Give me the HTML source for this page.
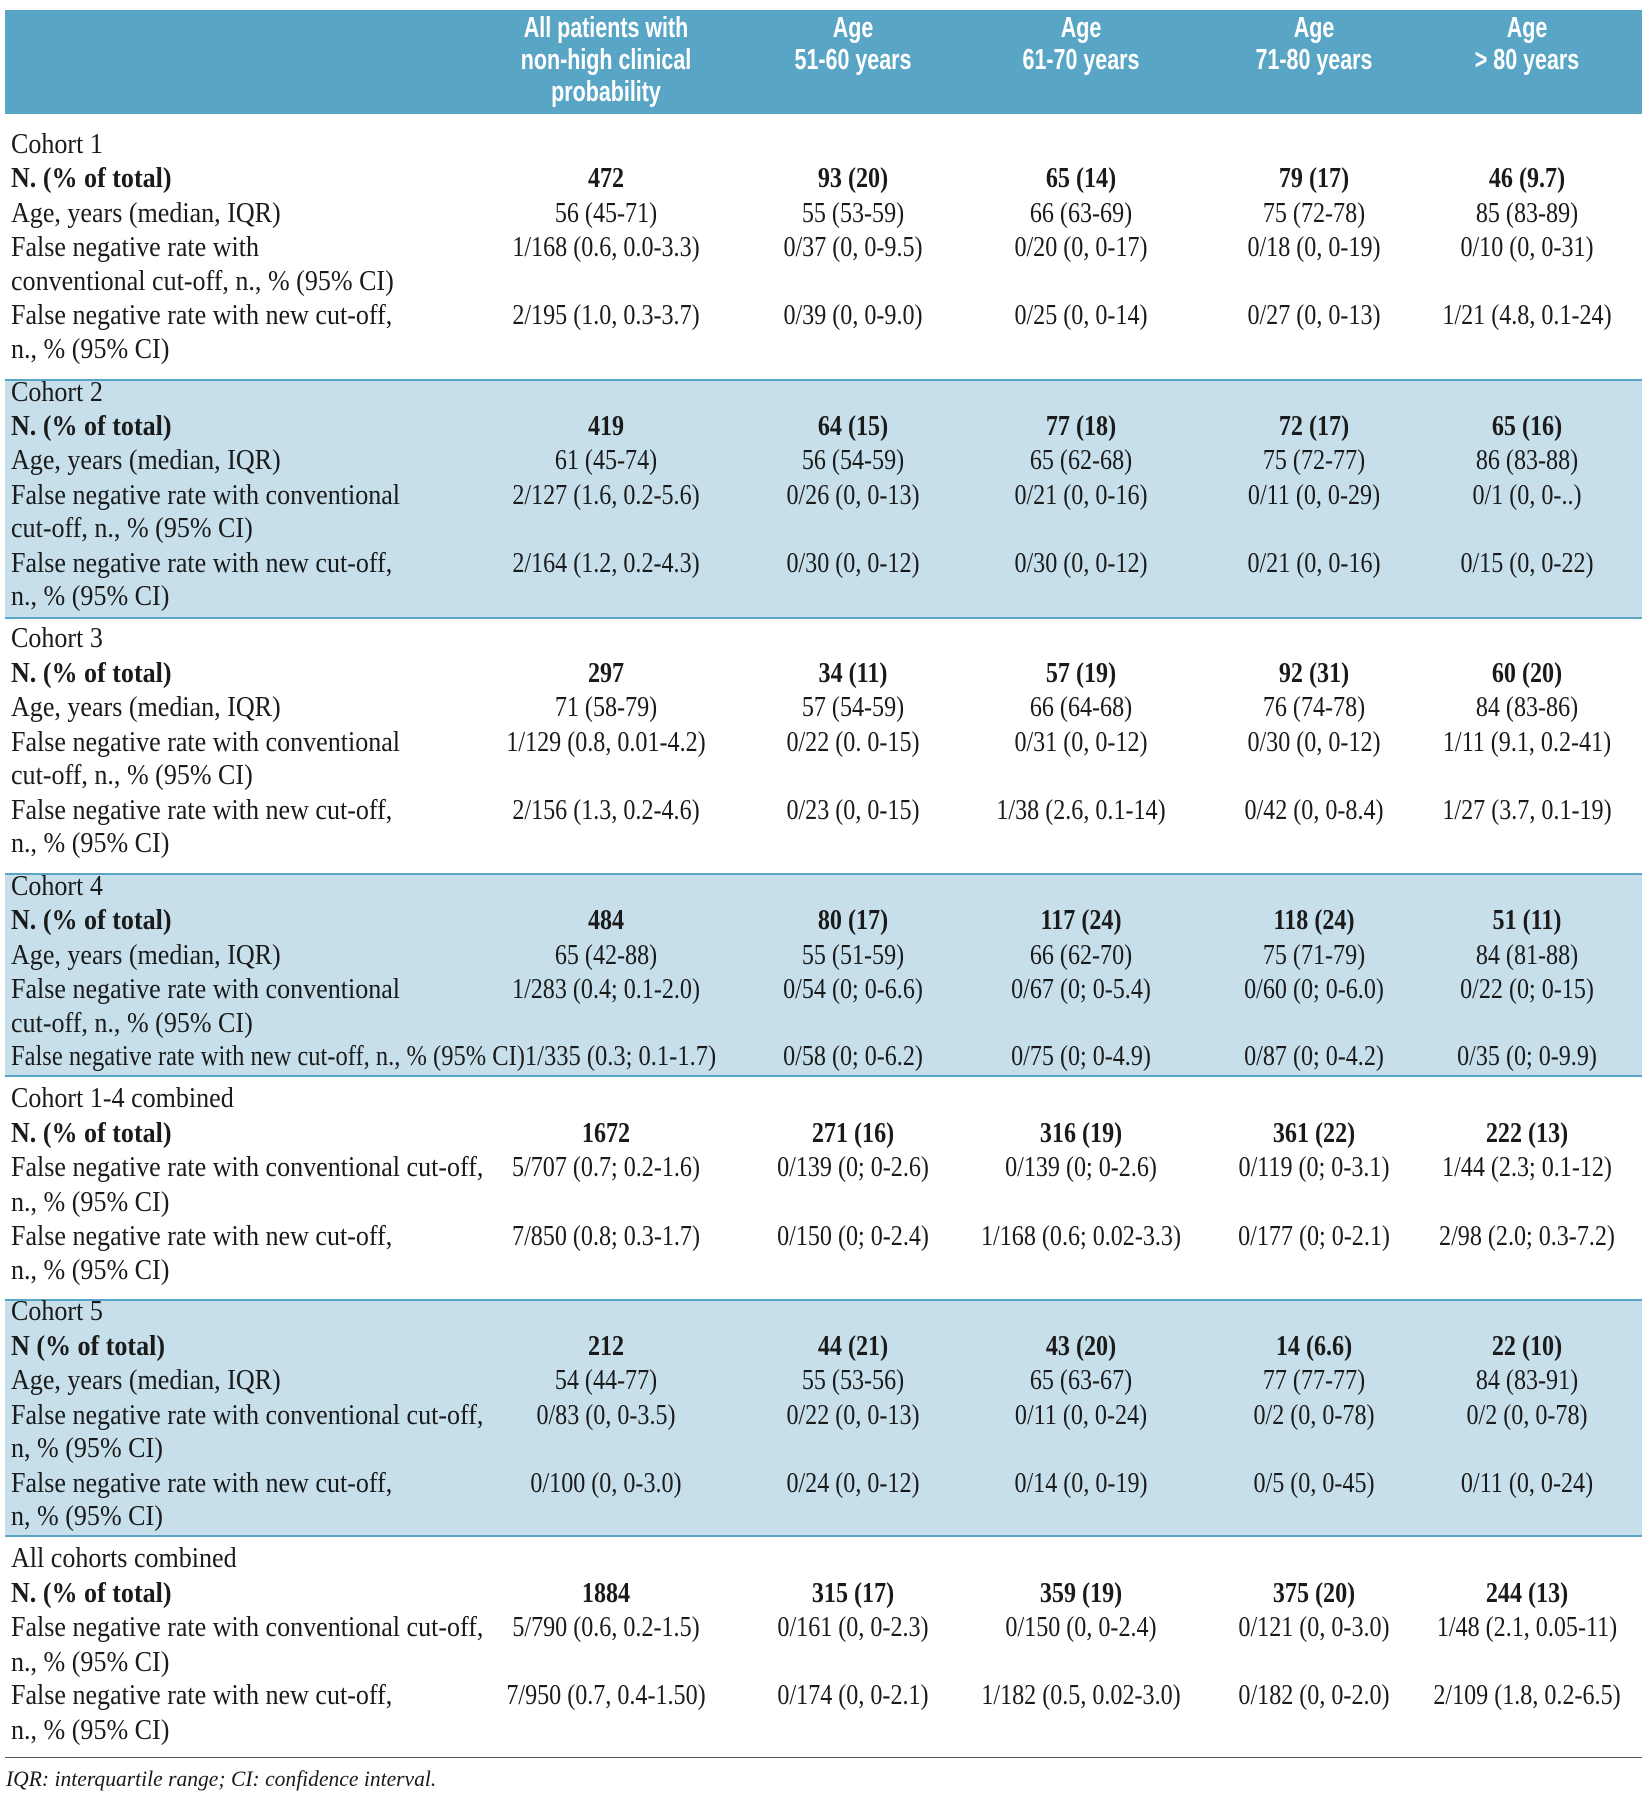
<!DOCTYPE html>
<html><head><meta charset="utf-8"><style>
body{margin:0;background:#fff;}
#p{position:relative;width:1649px;height:1800px;overflow:hidden;font-family:"Liberation Serif",serif;color:#1a1a1a;}
.hd{position:absolute;left:5px;top:10px;width:1637px;height:103px;background:#58a5c6;}
.h{position:absolute;color:#fff;font-family:"Liberation Sans",sans-serif;font-weight:bold;font-size:29px;line-height:32px;white-space:nowrap;transform:translateX(-50%) scaleX(.74);}
.band{position:absolute;left:5px;width:1637px;background:#c6dfea;}
.ln{position:absolute;left:5px;width:1637px;height:2px;background:#58a5c6;}
.r{position:absolute;left:0;width:1649px;height:32px;line-height:32px;font-size:28px;}
.r span{position:absolute;top:0;white-space:nowrap;}
.l{left:11px;transform:scaleX(.93);transform-origin:0 50%;}
.c1,.c2,.c3,.c4,.c5{transform:translateX(-50%) scaleX(.86);}
.c1{left:606px}.c2{left:853px}.c3{left:1081px}.c4{left:1314px}.c5{left:1527px}
.b{font-weight:bold;}
.fn{position:absolute;left:6px;top:1766px;font-size:22px;font-style:italic;transform:scaleX(.98);transform-origin:0 50%;white-space:nowrap;}
</style></head><body><div id="p">
<div class="hd"></div>
<div class="h" style="left:606px;top:12px">All patients with</div>
<div class="h" style="left:606px;top:44px">non-high clinical</div>
<div class="h" style="left:606px;top:76px">probability</div>
<div class="h" style="left:853px;top:12px">Age</div><div class="h" style="left:853px;top:44px">51-60 years</div>
<div class="h" style="left:1081px;top:12px">Age</div><div class="h" style="left:1081px;top:44px">61-70 years</div>
<div class="h" style="left:1314px;top:12px">Age</div><div class="h" style="left:1314px;top:44px">71-80 years</div>
<div class="h" style="left:1527px;top:12px">Age</div><div class="h" style="left:1527px;top:44px">&gt; 80 years</div>

<div class="band" style="top:380px;height:238px"></div>
<div class="band" style="top:874px;height:202px"></div>
<div class="band" style="top:1300px;height:236px"></div>
<div class="ln" style="top:112px"></div>
<div class="ln" style="top:379px"></div>
<div class="ln" style="top:617px"></div>
<div class="ln" style="top:873px"></div>
<div class="ln" style="top:1075px"></div>
<div class="ln" style="top:1299px"></div>
<div class="ln" style="top:1535px"></div>
<div class="ln" style="top:1757px;background:#555;height:1px"></div>

<div class="r" style="top:129px"><span class="l">Cohort 1</span></div>
<div class="r b" style="top:163px"><span class="l">N. (% of total)</span><span class="c1">472</span><span class="c2">93 (20)</span><span class="c3">65 (14)</span><span class="c4">79 (17)</span><span class="c5">46 (9.7)</span></div>
<div class="r" style="top:198px"><span class="l">Age, years (median, IQR)</span><span class="c1">56 (45-71)</span><span class="c2">55 (53-59)</span><span class="c3">66 (63-69)</span><span class="c4">75 (72-78)</span><span class="c5">85 (83-89)</span></div>
<div class="r" style="top:232px"><span class="l">False negative rate with</span><span class="c1">1/168 (0.6, 0.0-3.3)</span><span class="c2">0/37 (0, 0-9.5)</span><span class="c3">0/20 (0, 0-17)</span><span class="c4">0/18 (0, 0-19)</span><span class="c5">0/10 (0, 0-31)</span></div>
<div class="r" style="top:266px"><span class="l">conventional cut-off, n., % (95% CI)</span></div>
<div class="r" style="top:300px"><span class="l">False negative rate with new cut-off,</span><span class="c1">2/195 (1.0, 0.3-3.7)</span><span class="c2">0/39 (0, 0-9.0)</span><span class="c3">0/25 (0, 0-14)</span><span class="c4">0/27 (0, 0-13)</span><span class="c5">1/21 (4.8, 0.1-24)</span></div>
<div class="r" style="top:334px"><span class="l">n., % (95% CI)</span></div>

<div class="r" style="top:377px"><span class="l">Cohort 2</span></div>
<div class="r b" style="top:411px"><span class="l">N. (% of total)</span><span class="c1">419</span><span class="c2">64 (15)</span><span class="c3">77 (18)</span><span class="c4">72 (17)</span><span class="c5">65 (16)</span></div>
<div class="r" style="top:445px"><span class="l">Age, years (median, IQR)</span><span class="c1">61 (45-74)</span><span class="c2">56 (54-59)</span><span class="c3">65 (62-68)</span><span class="c4">75 (72-77)</span><span class="c5">86 (83-88)</span></div>
<div class="r" style="top:480px"><span class="l">False negative rate with conventional</span><span class="c1">2/127 (1.6, 0.2-5.6)</span><span class="c2">0/26 (0, 0-13)</span><span class="c3">0/21 (0, 0-16)</span><span class="c4">0/11 (0, 0-29)</span><span class="c5">0/1 (0, 0-..)</span></div>
<div class="r" style="top:513px"><span class="l">cut-off, n., % (95% CI)</span></div>
<div class="r" style="top:548px"><span class="l">False negative rate with new cut-off,</span><span class="c1">2/164 (1.2, 0.2-4.3)</span><span class="c2">0/30 (0, 0-12)</span><span class="c3">0/30 (0, 0-12)</span><span class="c4">0/21 (0, 0-16)</span><span class="c5">0/15 (0, 0-22)</span></div>
<div class="r" style="top:581px"><span class="l">n., % (95% CI)</span></div>

<div class="r" style="top:623px"><span class="l">Cohort 3</span></div>
<div class="r b" style="top:658px"><span class="l">N. (% of total)</span><span class="c1">297</span><span class="c2">34 (11)</span><span class="c3">57 (19)</span><span class="c4">92 (31)</span><span class="c5">60 (20)</span></div>
<div class="r" style="top:692px"><span class="l">Age, years (median, IQR)</span><span class="c1">71 (58-79)</span><span class="c2">57 (54-59)</span><span class="c3">66 (64-68)</span><span class="c4">76 (74-78)</span><span class="c5">84 (83-86)</span></div>
<div class="r" style="top:727px"><span class="l">False negative rate with conventional</span><span class="c1">1/129 (0.8, 0.01-4.2)</span><span class="c2">0/22 (0. 0-15)</span><span class="c3">0/31 (0, 0-12)</span><span class="c4">0/30 (0, 0-12)</span><span class="c5">1/11 (9.1, 0.2-41)</span></div>
<div class="r" style="top:760px"><span class="l">cut-off, n., % (95% CI)</span></div>
<div class="r" style="top:795px"><span class="l">False negative rate with new cut-off,</span><span class="c1">2/156 (1.3, 0.2-4.6)</span><span class="c2">0/23 (0, 0-15)</span><span class="c3">1/38 (2.6, 0.1-14)</span><span class="c4">0/42 (0, 0-8.4)</span><span class="c5">1/27 (3.7, 0.1-19)</span></div>
<div class="r" style="top:828px"><span class="l">n., % (95% CI)</span></div>

<div class="r" style="top:871px"><span class="l">Cohort 4</span></div>
<div class="r b" style="top:905px"><span class="l">N. (% of total)</span><span class="c1">484</span><span class="c2">80 (17)</span><span class="c3">117 (24)</span><span class="c4">118 (24)</span><span class="c5">51 (11)</span></div>
<div class="r" style="top:940px"><span class="l">Age, years (median, IQR)</span><span class="c1">65 (42-88)</span><span class="c2">55 (51-59)</span><span class="c3">66 (62-70)</span><span class="c4">75 (71-79)</span><span class="c5">84 (81-88)</span></div>
<div class="r" style="top:974px"><span class="l">False negative rate with conventional</span><span class="c1">1/283 (0.4; 0.1-2.0)</span><span class="c2">0/54 (0; 0-6.6)</span><span class="c3">0/67 (0; 0-5.4)</span><span class="c4">0/60 (0; 0-6.0)</span><span class="c5">0/22 (0; 0-15)</span></div>
<div class="r" style="top:1008px"><span class="l">cut-off, n., % (95% CI)</span></div>
<div class="r" style="top:1041px"><span class="l" style="transform:scaleX(.875)">False negative rate with new cut-off, n., % (95% CI)1/335 (0.3; 0.1-1.7)</span><span class="c2">0/58 (0; 0-6.2)</span><span class="c3">0/75 (0; 0-4.9)</span><span class="c4">0/87 (0; 0-4.2)</span><span class="c5">0/35 (0; 0-9.9)</span></div>

<div class="r" style="top:1083px"><span class="l">Cohort 1-4 combined</span></div>
<div class="r b" style="top:1118px"><span class="l">N. (% of total)</span><span class="c1">1672</span><span class="c2">271 (16)</span><span class="c3">316 (19)</span><span class="c4">361 (22)</span><span class="c5">222 (13)</span></div>
<div class="r" style="top:1152px"><span class="l">False negative rate with conventional cut-off,</span><span class="c1">5/707 (0.7; 0.2-1.6)</span><span class="c2">0/139 (0; 0-2.6)</span><span class="c3">0/139 (0; 0-2.6)</span><span class="c4">0/119 (0; 0-3.1)</span><span class="c5">1/44 (2.3; 0.1-12)</span></div>
<div class="r" style="top:1187px"><span class="l">n., % (95% CI)</span></div>
<div class="r" style="top:1221px"><span class="l">False negative rate with new cut-off,</span><span class="c1">7/850 (0.8; 0.3-1.7)</span><span class="c2">0/150 (0; 0-2.4)</span><span class="c3">1/168 (0.6; 0.02-3.3)</span><span class="c4">0/177 (0; 0-2.1)</span><span class="c5">2/98 (2.0; 0.3-7.2)</span></div>
<div class="r" style="top:1255px"><span class="l">n., % (95% CI)</span></div>

<div class="r" style="top:1296px"><span class="l">Cohort 5</span></div>
<div class="r b" style="top:1331px"><span class="l">N (% of total)</span><span class="c1">212</span><span class="c2">44 (21)</span><span class="c3">43 (20)</span><span class="c4">14 (6.6)</span><span class="c5">22 (10)</span></div>
<div class="r" style="top:1365px"><span class="l">Age, years (median, IQR)</span><span class="c1">54 (44-77)</span><span class="c2">55 (53-56)</span><span class="c3">65 (63-67)</span><span class="c4">77 (77-77)</span><span class="c5">84 (83-91)</span></div>
<div class="r" style="top:1400px"><span class="l">False negative rate with conventional cut-off,</span><span class="c1">0/83 (0, 0-3.5)</span><span class="c2">0/22 (0, 0-13)</span><span class="c3">0/11 (0, 0-24)</span><span class="c4">0/2 (0, 0-78)</span><span class="c5">0/2 (0, 0-78)</span></div>
<div class="r" style="top:1433px"><span class="l">n, % (95% CI)</span></div>
<div class="r" style="top:1468px"><span class="l">False negative rate with new cut-off,</span><span class="c1">0/100 (0, 0-3.0)</span><span class="c2">0/24 (0, 0-12)</span><span class="c3">0/14 (0, 0-19)</span><span class="c4">0/5 (0, 0-45)</span><span class="c5">0/11 (0, 0-24)</span></div>
<div class="r" style="top:1501px"><span class="l">n, % (95% CI)</span></div>

<div class="r" style="top:1543px"><span class="l">All cohorts combined</span></div>
<div class="r b" style="top:1578px"><span class="l">N. (% of total)</span><span class="c1">1884</span><span class="c2">315 (17)</span><span class="c3">359 (19)</span><span class="c4">375 (20)</span><span class="c5">244 (13)</span></div>
<div class="r" style="top:1612px"><span class="l">False negative rate with conventional cut-off,</span><span class="c1">5/790 (0.6, 0.2-1.5)</span><span class="c2">0/161 (0, 0-2.3)</span><span class="c3">0/150 (0, 0-2.4)</span><span class="c4">0/121 (0, 0-3.0)</span><span class="c5">1/48 (2.1, 0.05-11)</span></div>
<div class="r" style="top:1647px"><span class="l">n., % (95% CI)</span></div>
<div class="r" style="top:1680px"><span class="l">False negative rate with new cut-off,</span><span class="c1">7/950 (0.7, 0.4-1.50)</span><span class="c2">0/174 (0, 0-2.1)</span><span class="c3">1/182 (0.5, 0.02-3.0)</span><span class="c4">0/182 (0, 0-2.0)</span><span class="c5">2/109 (1.8, 0.2-6.5)</span></div>
<div class="r" style="top:1715px"><span class="l">n., % (95% CI)</span></div>

<div class="fn">IQR: interquartile range; CI: confidence interval.</div>
</div></body></html>
